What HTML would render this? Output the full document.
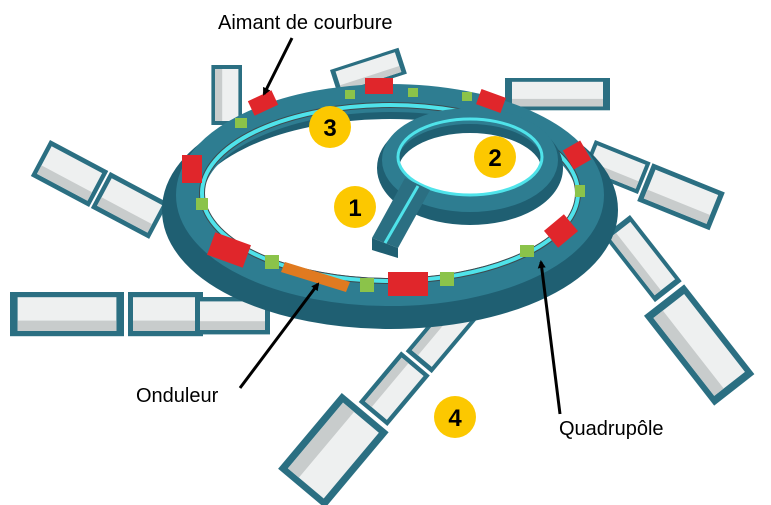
<!DOCTYPE html>
<html><head><meta charset="utf-8"><style>
html,body{margin:0;padding:0;background:#fff;width:771px;height:505px;overflow:hidden}
svg{display:block}
text{font-family:"Liberation Sans",sans-serif}
</style></head><body>
<svg width="771" height="505" viewBox="0 0 771 505" xmlns="http://www.w3.org/2000/svg">
<defs>
<marker id="ah" markerWidth="8" markerHeight="8" refX="6" refY="4" orient="auto" markerUnits="userSpaceOnUse"><path d="M0,0 L8,4 L0,8 Z" fill="#000"/></marker>
<g id="room">
 <rect x="0" y="0" width="60" height="34" fill="#2b6f82"/>
 <rect x="4" y="4" width="52" height="26" fill="#eef0f0"/>
 <rect x="4" y="22" width="52" height="8" fill="#c8cccc"/>
</g>
</defs>

<!-- beamline rooms -->
<g transform="translate(10,292)"><use href="#room" transform="scale(1.9,1.3)"/><use href="#room" transform="translate(118,0) scale(1.25,1.3)"/><use href="#room" transform="translate(185,5) scale(1.25,1.1)"/></g>
<g transform="translate(50,140) rotate(28)"><use href="#room" transform="scale(1.1,1.2)"/><use href="#room" transform="translate(68,0) scale(1.1,1.2)"/></g>
<g transform="translate(212,65) rotate(90) translate(0,-30)"><use href="#room" transform="scale(1,0.9)"/></g>
<g transform="translate(330,70) rotate(-18)"><use href="#room" transform="scale(1.2,0.8)"/></g>
<g transform="translate(505,78)"><use href="#room" transform="scale(1.75,0.95)"/></g>
<g transform="translate(595,140) rotate(22)"><use href="#room" transform="scale(1,1)"/><use href="#room" transform="translate(62,0) scale(1.3,1.2)"/></g>
<g transform="translate(630,215) rotate(52)"><use href="#room" transform="scale(1.4,1)"/><use href="#room" transform="translate(88,0) scale(1.9,1.5)"/></g>
<g transform="translate(478,318) rotate(130)"><use href="#room" transform="scale(1.2,1)"/><use href="#room" transform="translate(75,0) scale(1.1,1.1)"/><use href="#room" transform="translate(145,-5) scale(1.65,1.8)"/></g>

<!-- storage ring walls -->
<ellipse cx="390" cy="210" rx="214" ry="105" fill="none" stroke="#1f5f72" stroke-width="28"/>
<ellipse cx="390" cy="195" rx="200" ry="97" fill="none" stroke="#2e7d91" stroke-width="28"/>
<ellipse cx="390" cy="193" rx="188" ry="88" fill="none" stroke="#3d4a4f" stroke-width="6"/>
<ellipse cx="390" cy="193" rx="188" ry="88" fill="none" stroke="#4fe3ea" stroke-width="4"/>

<!-- booster -->
<ellipse cx="470" cy="168" rx="82" ry="46" fill="none" stroke="#1f5f72" stroke-width="22"/>
<ellipse cx="470" cy="160" rx="80" ry="44" fill="none" stroke="#2e7d91" stroke-width="16"/>
<ellipse cx="470" cy="157" rx="72" ry="38" fill="none" stroke="#4fe3ea" stroke-width="3"/>
<polygon points="372,238 398,248 430,190 405,178" fill="#2b6f82"/>
<polygon points="372,238 398,248 398,258 372,250" fill="#1f5f72"/>
<line x1="385" y1="243" x2="418" y2="186" stroke="#4fe3ea" stroke-width="3"/>

<!-- magnets -->
<g fill="#e0262b">
<rect x="250" y="95" width="26" height="16" transform="rotate(-25 263 103)"/>
<rect x="365" y="78" width="28" height="16"/>
<rect x="478" y="93" width="26" height="16" transform="rotate(20 491 101)"/>
<rect x="566" y="145" width="22" height="20" transform="rotate(60 577 155)"/>
<rect x="548" y="220" width="26" height="22" transform="rotate(-40 561 231)"/>
<rect x="388" y="272" width="40" height="24"/>
<rect x="210" y="238" width="38" height="24" transform="rotate(20 229 250)"/>
<rect x="182" y="155" width="20" height="28"/>
</g>
<g fill="#8bc34a">
<rect x="235" y="118" width="12" height="10"/><rect x="345" y="90" width="10" height="9"/><rect x="408" y="88" width="10" height="9"/><rect x="462" y="92" width="10" height="9"/><rect x="520" y="245" width="14" height="12"/><rect x="360" y="278" width="14" height="14"/><rect x="440" y="272" width="14" height="14"/><rect x="265" y="255" width="14" height="14"/><rect x="196" y="198" width="12" height="12"/><rect x="575" y="185" width="10" height="12"/>
</g>
<!-- undulator -->
<polygon points="285,262 350,282 346,292 281,272" fill="#e07a20"/>

<!-- numbered circles -->
<g font-size="24" font-weight="bold" text-anchor="middle" fill="#000">
<circle cx="330" cy="127" r="21" fill="#fcc800"/><text x="330" y="136">3</text>
<circle cx="495" cy="157" r="21" fill="#fcc800"/><text x="495" y="166">2</text>
<circle cx="355" cy="207" r="21" fill="#fcc800"/><text x="355" y="216">1</text>
<circle cx="455" cy="417" r="21" fill="#fcc800"/><text x="455" y="426">4</text>
</g>

<!-- labels & arrows -->
<g font-size="20" fill="#000">
<text x="218" y="29">Aimant de courbure</text>
<text x="136" y="402">Onduleur</text>
<text x="559" y="435">Quadrupôle</text>
</g>
<g stroke="#000" stroke-width="3" fill="none">
<line x1="292" y1="38" x2="264" y2="94" marker-end="url(#ah)"/>
<line x1="240" y1="388" x2="318" y2="284" marker-end="url(#ah)"/>
<line x1="560" y1="414" x2="541" y2="262" marker-end="url(#ah)"/>
</g>
</svg>
</body></html>
